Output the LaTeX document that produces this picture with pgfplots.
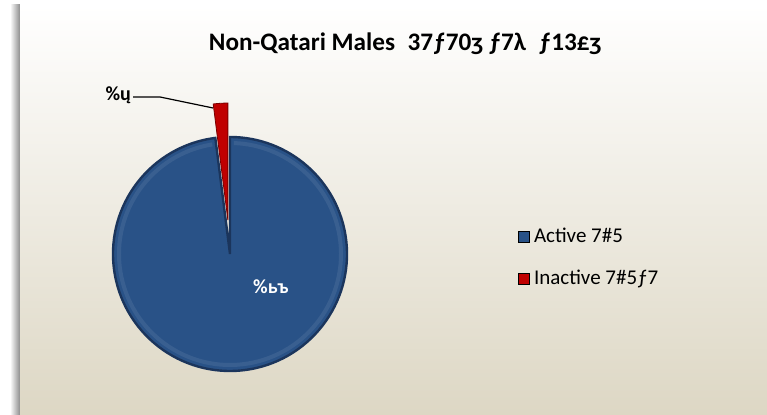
\documentclass[border=0pt]{standalone}
\usepackage{pgfplots}
\pgfplotsset{compat=1.18}
\usepackage{pgfplotstable}
\usepackage{fontspec}
\setmainfont{Carlito}

\definecolor{activeblue}{HTML}{295287}
\definecolor{activeedge}{HTML}{1B355C}
\definecolor{inactred}{HTML}{C00000}
\definecolor{inactedge}{HTML}{7A0000}
\definecolor{panelbot}{HTML}{DDD7C4}

% share in percent, explode offset in px
\pgfplotstableread{
share explode
98 0
2 34
}\slices
\pgfplotstablegetelem{0}{share}\of\slices \let\pActive\pgfplotsretval
\pgfplotstablegetelem{1}{share}\of\slices \let\pInactive\pgfplotsretval
\pgfplotstablegetelem{1}{explode}\of\slices \let\pExplode\pgfplotsretval

\begin{document}
\begin{tikzpicture}
\begin{axis}[
    scale only axis,
    width=383.5pt, height=207.5pt,
    xmin=0, xmax=767, ymin=0, ymax=415,
    hide axis, clip=false,
    legend style={draw=none, fill=none, font=\fontsize{10.5}{12}\selectfont,
        at={(axis cs:512,195)}, anchor=north west,
        row sep=8pt, cells={anchor=west}},
    legend image code/.code={\fill[#1] (0pt,-2.7pt) rectangle (5.4pt,2.7pt);},
]
% panel background
\shade[left color=white, right color=black!45] (axis cs:10,0) rectangle (axis cs:20,410);
\shade[top color=white, bottom color=panelbot] (axis cs:20,0) rectangle (axis cs:767,410);

% angles from the data
\pgfmathsetmacro{\aRed}{3.6*\pInactive}
\pgfmathsetmacro{\aEnd}{90+\aRed}
\pgfmathsetmacro{\aMid}{90+\aRed/2}

% Active slice
\fill[activeblue, draw=activeedge, line width=1.2pt]
    (axis cs:230,161) -- ++(\aEnd:58.5pt)
    arc[start angle=\aEnd, end angle=450, radius=58.5pt] -- cycle;
\draw[white, opacity=0.08, line width=2pt]
    (axis cs:230,161) ++(\aEnd+2:55.5pt) arc[start angle=\aEnd+2, end angle=448, radius=55.5pt];

% Inactive slice (exploded)
\fill[inactred, draw=inactedge, line width=0.4pt]
    (axis cs:230,161) ++(\aMid:\pExplode/2 pt) -- ++(90:58.5pt)
    arc[start angle=90, end angle=\aEnd, radius=58.5pt] -- cycle;

% labels
\node[font=\bfseries\fontsize{10}{12}\selectfont, text=white] at (axis cs:271,128) {\%ьъ};
\node[font=\bfseries\fontsize{10}{12}\selectfont, anchor=east] at (axis cs:138,320) {\%ų};
\draw[black, line width=0.6pt] (axis cs:133,318) -- (axis cs:160,318) -- (axis cs:213,307);

% title
\node[font=\bfseries\fontsize{12.6}{14}\selectfont] at (axis cs:405,371)
    {Non-Qatari Males\enspace 37ƒ70ʒ ƒ7λ\enspace ƒ13£ʒ};

\addlegendimage{fill=activeblue}
\addlegendentry{Active 7\#5}
\addlegendimage{fill=inactred}
\addlegendentry{Inactive 7\#5ƒ7}
\end{axis}
\pgfresetboundingbox
\path (0,0) rectangle (383.5pt,207.5pt);
\end{tikzpicture}
\end{document}
